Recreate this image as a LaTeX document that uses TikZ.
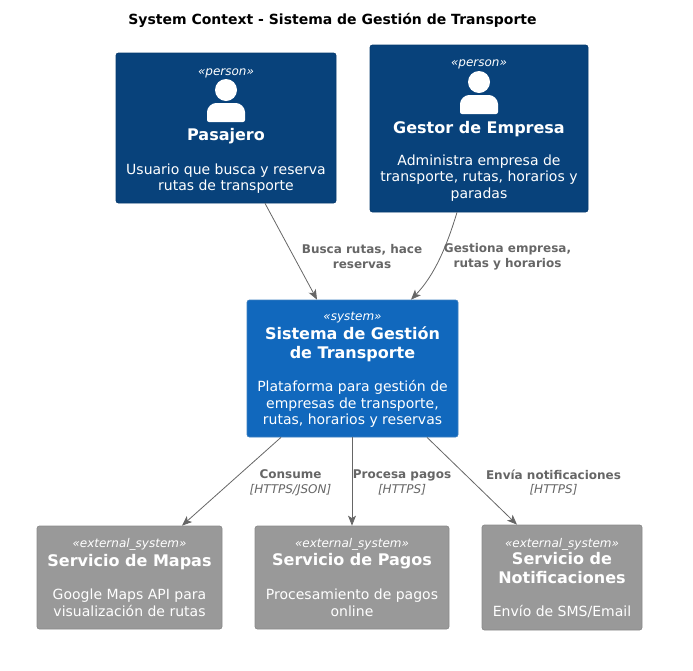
\documentclass[tikz,border=0pt]{standalone}
\usepackage{fontspec}
\setmainfont{DejaVu Sans}
\usetikzlibrary{arrows.meta}
\definecolor{personfill}{HTML}{08427B}
\definecolor{personline}{HTML}{073B6F}
\definecolor{sysfill}{HTML}{1168BD}
\definecolor{sysline}{HTML}{3C7FC0}
\definecolor{extfill}{HTML}{999999}
\definecolor{extline}{HTML}{8A8A8A}
\definecolor{linkcol}{HTML}{666666}
\newcommand{\stereotxt}[1]{{\fontsize{12}{14}\selectfont\itshape #1}}
\newcommand{\nametxt}[1]{{\fontsize{16}{18.5}\selectfont\bfseries #1}}
\newcommand{\desctxt}[1]{{\fontsize{14}{16.5}\selectfont #1}}
\newcommand{\linkb}[1]{{\fontsize{12}{14}\selectfont\bfseries #1}}
\newcommand{\linki}[1]{{\fontsize{12}{14}\selectfont\itshape #1}}
\tikzset{
  box/.style={rounded corners=2.5pt,draw,line width=0.7pt,text=white,align=center,inner sep=0pt,anchor=center,font=\fontsize{14}{16.5}\selectfont},
  personbox/.style={box,fill=personfill,draw=personline},
  sysbox/.style={box,fill=sysfill,draw=sysline},
  extbox/.style={box,fill=extfill,draw=extline},
  link/.style={draw=linkcol,line width=0.8pt,-{Stealth[length=10pt,width=8pt,inset=2.5pt]}},
  linklabel/.style={text=linkcol,align=center,inner sep=0pt,anchor=center,font=\fontsize{12}{14.5}\selectfont},
  titletext/.style={inner sep=0pt,anchor=center,text=black},
  pics/usericon/.style={code={
    \fill[white] (0,0) circle (11pt);
    \fill[white,rounded corners=2pt] (-19pt,-32pt) -- (-19pt,-24pt)
      .. controls (-19pt,-17pt) and (-14pt,-13pt) .. (-8pt,-13pt) -- (8pt,-13pt)
      .. controls (14pt,-13pt) and (19pt,-17pt) .. (19pt,-24pt) -- (19pt,-32pt) -- cycle;
  }}
}
\begin{document}
\begin{tikzpicture}[x=1pt,y=-1pt]
\useasboundingbox (0,0) rectangle (693,670);
\node[titletext] (title) at (332.5,20) {\fontsize{14}{16}\selectfont\bfseries System Context - Sistema de Gestión de Transporte};

\node[personbox,minimum width=220pt,minimum height=150pt] (pas) at (226,128) {\rule{0pt}{12.6pt}\stereotxt{«person»}\\[48.5pt]\nametxt{Pasajero}\\[17.5pt]\desctxt{Usuario que busca y reserva}\\\desctxt{rutas de transporte}};
\pic at (226,90) {usericon};

\node[personbox,minimum width=218pt,minimum height=167pt] (ges) at (479,128.5) {\rule{0pt}{10.6pt}\stereotxt{«person»}\\[50.5pt]\nametxt{Gestor de Empresa}\\[15.5pt]\desctxt{Administra empresa de}\\\desctxt{transporte, rutas, horarios y}\\\desctxt{paradas}};
\pic at (479,82) {usericon};

\node[sysbox,minimum width=211pt,minimum height=137pt] (sis) at (352.5,368.5) {\rule{0pt}{11.5pt}\stereotxt{«system»}\\[2.5pt]\nametxt{Sistema de Gestión}\\[2.5pt]\nametxt{de Transporte}\\[16.5pt]\desctxt{Plataforma para gestión de}\\\desctxt{empresas de transporte,}\\\desctxt{rutas, horarios y reservas}};

\node[extbox,minimum width=185pt,minimum height=103pt] (map) at (129.5,577.5) {\stereotxt{«external\_system»}\\[3pt]\nametxt{Servicio de Mapas}\\[16.5pt]\desctxt{Google Maps API para}\\\desctxt{visualización de rutas}};

\node[extbox,minimum width=194pt,minimum height=103pt] (pag) at (352,577.5) {\stereotxt{«external\_system»}\\[2pt]\nametxt{Servicio de Pagos}\\[17.5pt]\desctxt{Procesamiento de pagos}\\\desctxt{online}};

\node[extbox,minimum width=160pt,minimum height=105pt] (not) at (562,577.5) {\rule{0pt}{10.1pt}\stereotxt{«external\_system»}\\[0.5pt]\nametxt{Servicio de}\\[2.5pt]\nametxt{Notificaciones}\\[16.5pt]\desctxt{Envío de SMS/Email}};

\draw[link] ([xshift=39pt]pas.south) -- ([xshift=-35.5pt]sis.north);
\draw[link] ([xshift=-22pt]ges.south) .. controls ([xshift=-32pt,yshift=-33pt]ges.south) and ([xshift=82.5pt,yshift=25pt]sis.north) .. ([xshift=58.5pt]sis.north);
\draw[link] ([xshift=-71.5pt]sis.south) -- ([xshift=52.5pt]map.north);
\draw[link] ([xshift=-0.5pt]sis.south) -- (pag.north);
\draw[link] ([xshift=74.5pt]sis.south) -- ([xshift=-45pt]not.north);

\node[linklabel] (l1) at (362,256.5) {\linkb{Busca rutas, hace}\\\linkb{reservas}};
\node[linklabel] (l2) at (507.5,256.5) {\linkb{Gestiona empresa,}\\\linkb{rutas y horarios}};
\node[linklabel] (l3) at (290.5,482.5) {\linkb{Consume}\\\linki{[HTTPS/JSON]}};
\node[linklabel] (l4) at (402,482.5) {\linkb{Procesa pagos}\\\linki{[HTTPS]}};
\node[linklabel] (l5) at (553.5,482.5) {\linkb{Envía notificaciones}\\\linki{[HTTPS]}};
\end{tikzpicture}
\end{document}
